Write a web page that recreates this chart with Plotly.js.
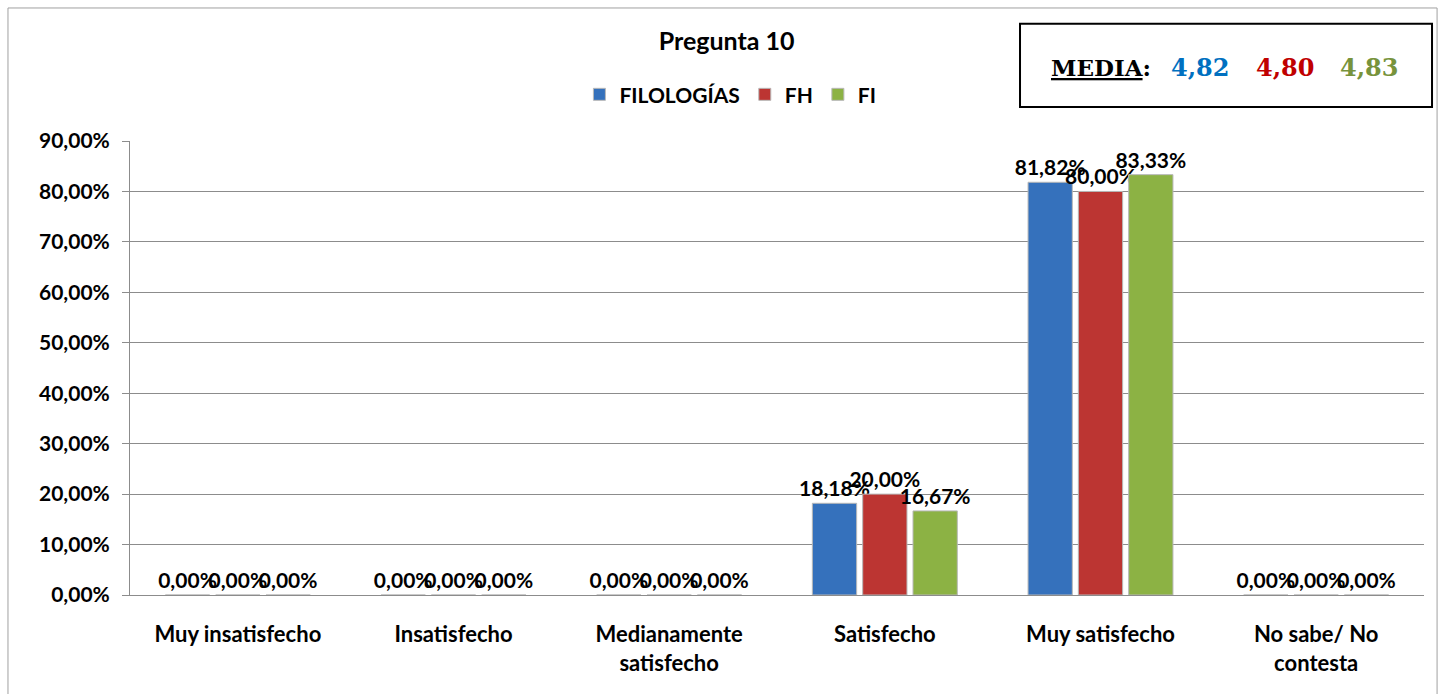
<!DOCTYPE html>
<html>
<head>
<meta charset="utf-8">
<script src="https://cdn.plot.ly/plotly-3.0.1.min.js"></script>
<style>html,body{margin:0;padding:0;background:#fff;}#chart{width:1439px;height:694px;}</style>
</head>
<body>
<div id="chart"></div>
<script>
const categories = ['Muy insatisfecho', 'Insatisfecho', 'Medianamente<br>satisfecho', 'Satisfecho', 'Muy satisfecho', 'No sabe/ No<br>contesta'];
const seriesNames = ['FILOLOGÍAS', 'FH', 'FI'];
const filologias = [0, 0, 0, 18.18, 81.82, 0];
const fh = [0, 0, 0, 20.00, 80.00, 0];
const fi = [0, 0, 0, 16.67, 83.33, 0];
const mediaValues = [4.82, 4.80, 4.83];
const yTicks = [0, 10, 20, 30, 40, 50, 60, 70, 80, 90];

const seriesColors = ['#3571BC', '#BC3532', '#8CB244'];
const mediaColors = ['#0070C0', '#C00000', '#77933C'];
const font = 'Lato, "Open Sans", sans-serif';

const allSeries = [filologias, fh, fi];
const traces = allSeries.map((vals, i) => ({
  type: 'bar',
  name: seriesNames[i],
  x: categories,
  y: vals,
  marker: {color: seriesColors[i], line: {color: '#b8b8b8', width: 1}},
  texttemplate: '%{y:.2f}%',
  textposition: 'outside',
  constraintext: 'none',
  cliponaxis: false,
  textfont: {family: font, size: 21, color: '#000', weight: 'bold'},
  hoverinfo: 'x+y'
}));

const fmt = v => v.toFixed(2).replace('.', ',');

const annotations = [
  {xref: 'paper', yref: 'paper', x: 0.750, y: 1.161, xanchor: 'center', yanchor: 'middle', showarrow: false,
   text: '<b><span style="text-decoration:underline">MEDIA</span>:</b>',
   font: {family: '"DejaVu Serif", "Liberation Serif", serif', size: 23, color: '#000'}}
];
const mediaX = [0.8269, 0.8926, 0.9575];
mediaValues.forEach((v, i) => annotations.push({
  xref: 'paper', yref: 'paper', x: mediaX[i], y: 1.161, xanchor: 'center', yanchor: 'middle', showarrow: false,
  text: '<b>' + fmt(v) + '</b>',
  font: {family: '"DejaVu Serif", "Liberation Serif", serif', size: 24, color: mediaColors[i]}
}));

const layout = {
  width: 1439, height: 694,
  margin: {l: 130, r: 15, t: 141, b: 99},
  paper_bgcolor: '#fff', plot_bgcolor: '#fff',
  separators: ',.',
  font: {family: font, color: '#000'},
  title: {text: '<b>Pregunta 10</b>', x: 0.505, xref: 'container', y: 0.94, yref: 'container', yanchor: 'middle',
          font: {family: font, size: 25, color: '#000', weight: 'bold'}},
  barmode: 'group', bargap: 0.3, bargroupgap: 0.12,
  showlegend: true,
  legend: {orientation: 'h', x: 0.464, xanchor: 'center', y: 1.102, yanchor: 'middle',
           font: {family: font, size: 21, color: '#000', weight: 'bold'}, itemwidth: 30, traceorder: 'normal'},
  xaxis: {type: 'category', showgrid: false, showline: true, linecolor: '#8c8c8c', linewidth: 1,
          ticks: '', tickfont: {family: font, size: 22, color: '#000', weight: 'bold'},
          ticklabelstandoff: 20, fixedrange: true},
  yaxis: {range: [0, 90], tickvals: yTicks, ticktext: yTicks.map(v => fmt(v) + '%'),
          showgrid: true, gridcolor: '#8c8c8c', gridwidth: 1,
          showline: true, linecolor: '#8c8c8c', linewidth: 1, ticks: 'outside', ticklen: 7, tickcolor: '#8c8c8c',
          tickfont: {family: font, size: 21, color: '#000', weight: 'bold'}, ticklabelstandoff: 8,
          zeroline: false, fixedrange: true},
  shapes: [
    {type: 'rect', xref: 'paper', yref: 'paper', x0: -0.0943, x1: 1.0101, y0: -0.3, y1: 1.293,
     line: {color: '#a0a0a0', width: 1}, fillcolor: 'rgba(0,0,0,0)', layer: 'below'},
    {type: 'rect', xref: 'paper', yref: 'paper', x0: 0.6878, x1: 1.0062, y0: 1.075, y1: 1.258,
     line: {color: '#000', width: 2}, fillcolor: '#fff', layer: 'below'}
  ],
  annotations: annotations
};

Plotly.newPlot('chart', traces, layout, {displayModeBar: false, responsive: false});
</script>
</body>
</html>
